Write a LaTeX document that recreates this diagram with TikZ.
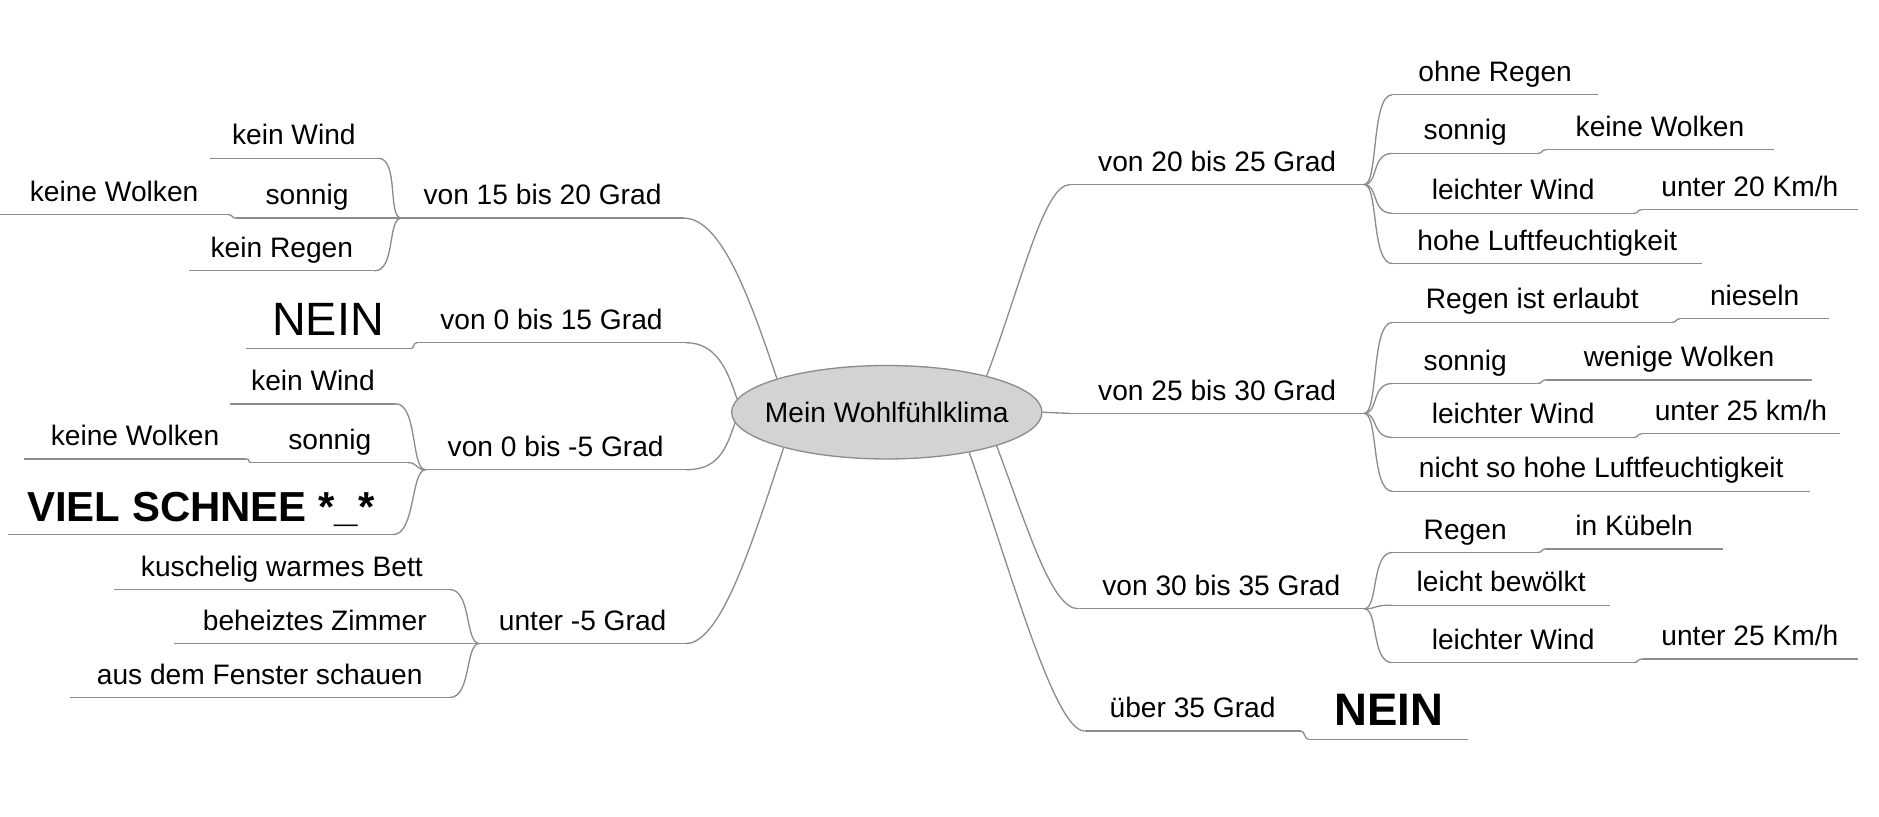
\documentclass[tikz,border=0pt]{standalone}
\usepackage{fontspec}
\setmainfont{Liberation Sans}
\usepackage{xcolor}
\usetikzlibrary{shapes.geometric}

\definecolor{linegray}{HTML}{8C8C8C}
\definecolor{coregray}{HTML}{D3D3D3}

\begin{document}
\begin{tikzpicture}[x=1pt, y=-1pt,
    link/.style={draw=linegray, line width=1.1pt},
    topic/.style={anchor=south west, inner sep=0pt, minimum width=#1,
      text height=17pt, text depth=11pt, font=\fontsize{23.5}{28}\selectfont,
      append after command={(\tikzlastnode.south west) edge[link] (\tikzlastnode.south east)}},
    bignein/.style={font=\fontsize{39}{44}\selectfont},
    bigbold/.style={font=\fontsize{#1}{40}\selectfont\bfseries},
    core/.style={ellipse, draw=linegray, line width=1.1pt, fill=coregray, inner sep=0pt,
      minimum width=259pt, minimum height=78pt, font=\fontsize{23.5}{28}\selectfont}]

    \useasboundingbox (0,0) rectangle (1568,681);

    % === Center ===
    \node[core] (core) at (740,344) {\makebox[0pt]{Mein Wohlfühlklima}};

    % === von 15 bis 20 Grad ===
    \node[topic=235] (a1) at (335,182) {von 15 bis 20 Grad};
    \node[topic=140] (a11) at (175,132) {kein Wind};
    \node[topic=118] (a12) at (197,182) {sonnig};
    \node[topic=190] (a121) at (0,179) {keine Wolken};
    \node[topic=154] (a13) at (158,226) {kein Regen};
    \draw[link] (a1.south east) .. controls +(30,0) and +(-25,-75) .. (core.163);
    \draw[link] (a11.south east) .. controls +(18,0) and +(-12,0) .. (a1.south west);
    \draw[link] (a12.south east) -- (a1.south west);
    \draw[link] (a121.south east) .. controls +(4,0) and +(-4,0) .. (a12.south west);
    \draw[link] (a13.south east) .. controls +(18,0) and +(-12,0) .. (a1.south west);

    % === von 0 bis 15 Grad ===
    \node[topic=224] (a2) at (348,286) {von 0 bis 15 Grad};
    \node[topic=137, bignein] (a21) at (205,291) {NEIN};
    \draw[link] (a2.south east) .. controls +(25,0) and +(-8,-25) .. (core.175);
    \draw[link] (a21.south east) .. controls +(4,0) and +(-4,0) .. (a2.south west);

    % === von 0 bis -5 Grad ===
    \node[topic=217] (a3) at (355,392) {von 0 bis -5 Grad};
    \node[topic=138] (a31) at (192,337) {kein Wind};
    \node[topic=130] (a32) at (210,386) {sonnig};
    \node[topic=185] (a321) at (20,383) {keine Wolken};
    \node[topic=321, bigbold=35] (a33) at (7,446) {VIEL SCHNEE *\_*};
    \draw[link] (a3.south east) .. controls +(25,0) and +(-8,25) .. (core.184);
    \draw[link] (a31.south east) .. controls +(18,0) and +(-12,0) .. (a3.south west);
    \draw[link] (a32.south east) .. controls +(8,0) and +(-8,0) .. (a3.south west);
    \draw[link] (a321.south east) .. controls +(4,0) and +(-4,0) .. (a32.south west);
    \draw[link] (a33.south east) .. controls +(18,0) and +(-12,0) .. (a3.south west);

    % === unter -5 Grad ===
    \node[topic=172] (a4) at (400,537) {unter -5 Grad};
    \node[topic=280] (a41) at (95,492) {kuschelig warmes Bett};
    \node[topic=235] (a42) at (145,537) {beheiztes Zimmer};
    \node[topic=317] (a43) at (58,582) {aus dem Fenster schauen};
    \draw[link] (a4.south east) .. controls +(30,0) and +(-25,75) .. (core.199);
    \draw[link] (a41.south east) .. controls +(18,0) and +(-12,0) .. (a4.south west);
    \draw[link] (a42.south east) -- (a4.south west);
    \draw[link] (a43.south east) .. controls +(18,0) and +(-12,0) .. (a4.south west);

    % === von 20 bis 25 Grad ===
    \node[topic=245] (b1) at (893,154) {von 20 bis 25 Grad};
    \node[topic=171] (b11) at (1162,79) {ohne Regen};
    \node[topic=121] (b12) at (1162,128) {sonnig};
    \node[topic=190] (b121) at (1290,125) {keine Wolken};
    \node[topic=201] (b13) at (1162,178) {leichter Wind};
    \node[topic=180] (b131) at (1370,175) {unter 20 Km/h};
    \node[topic=258] (b14) at (1162,220) {hohe Luftfeuchtigkeit};
    \draw[link] (core.20) .. controls +(30,-80) and +(-22,0) .. (b1.south west);
    \draw[link] (b1.south east) .. controls +(12,0) and +(-18,0) .. (b11.south west);
    \draw[link] (b1.south east) .. controls +(12,0) and +(-18,0) .. (b12.south west);
    \draw[link] (b1.south east) .. controls +(12,0) and +(-18,0) .. (b13.south west);
    \draw[link] (b1.south east) .. controls +(12,0) and +(-18,0) .. (b14.south west);
    \draw[link] (b12.south east) .. controls +(4,0) and +(-4,0) .. (b121.south west);
    \draw[link] (b13.south east) .. controls +(4,0) and +(-4,0) .. (b131.south west);

    % === von 25 bis 30 Grad ===
    \node[topic=245] (b2) at (893,345) {von 25 bis 30 Grad};
    \node[topic=233] (b21) at (1162,269) {Regen ist erlaubt};
    \node[topic=124] (b211) at (1402,266) {nieseln};
    \node[topic=121] (b22) at (1162,320) {sonnig};
    \node[topic=222] (b221) at (1290,317) {wenige Wolken};
    \node[topic=201] (b23) at (1162,365) {leichter Wind};
    \node[topic=165] (b231) at (1370,362) {unter 25 km/h};
    \node[topic=348] (b24) at (1162,410) {nicht so hohe Luftfeuchtigkeit};
    \draw[link] (core.east) -- (b2.south west);
    \draw[link] (b2.south east) .. controls +(12,0) and +(-18,0) .. (b21.south west);
    \draw[link] (b2.south east) .. controls +(12,0) and +(-18,0) .. (b22.south west);
    \draw[link] (b2.south east) .. controls +(12,0) and +(-18,0) .. (b23.south west);
    \draw[link] (b2.south east) .. controls +(12,0) and +(-18,0) .. (b24.south west);
    \draw[link] (b21.south east) .. controls +(4,0) and +(-4,0) .. (b211.south west);
    \draw[link] (b22.south east) .. controls +(4,0) and +(-4,0) .. (b221.south west);
    \draw[link] (b23.south east) .. controls +(4,0) and +(-4,0) .. (b231.south west);

    % === von 30 bis 35 Grad ===
    \node[topic=238] (b3) at (900,508) {von 30 bis 35 Grad};
    \node[topic=121] (b31) at (1162,461) {Regen};
    \node[topic=147] (b311) at (1290,458) {in Kübeln};
    \node[topic=181] (b32) at (1162,505) {leicht bewölkt};
    \node[topic=201] (b33) at (1162,553) {leichter Wind};
    \node[topic=180] (b331) at (1370,550) {unter 25 Km/h};
    \draw[link] (core.-17) .. controls +(28,75) and +(-22,0) .. (b3.south west);
    \draw[link] (b3.south east) .. controls +(12,0) and +(-18,0) .. (b31.south west);
    \draw[link] (b3.south east) .. controls +(12,0) and +(-18,0) .. (b32.south west);
    \draw[link] (b3.south east) .. controls +(12,0) and +(-18,0) .. (b33.south west);
    \draw[link] (b31.south east) .. controls +(4,0) and +(-4,0) .. (b311.south west);
    \draw[link] (b33.south east) .. controls +(4,0) and +(-4,0) .. (b331.south west);

    % === über 35 Grad ===
    \node[topic=180] (b4) at (905,610) {über 35 Grad};
    \node[topic=133, bigbold=38] (b41) at (1092,617) {NEIN};
    \draw[link] (core.-26) .. controls +(35,100) and +(-25,0) .. (b4.south west);
    \draw[link] (b4.south east) .. controls +(4,0) and +(-4,0) .. (b41.south west);

\end{tikzpicture}
\end{document}
